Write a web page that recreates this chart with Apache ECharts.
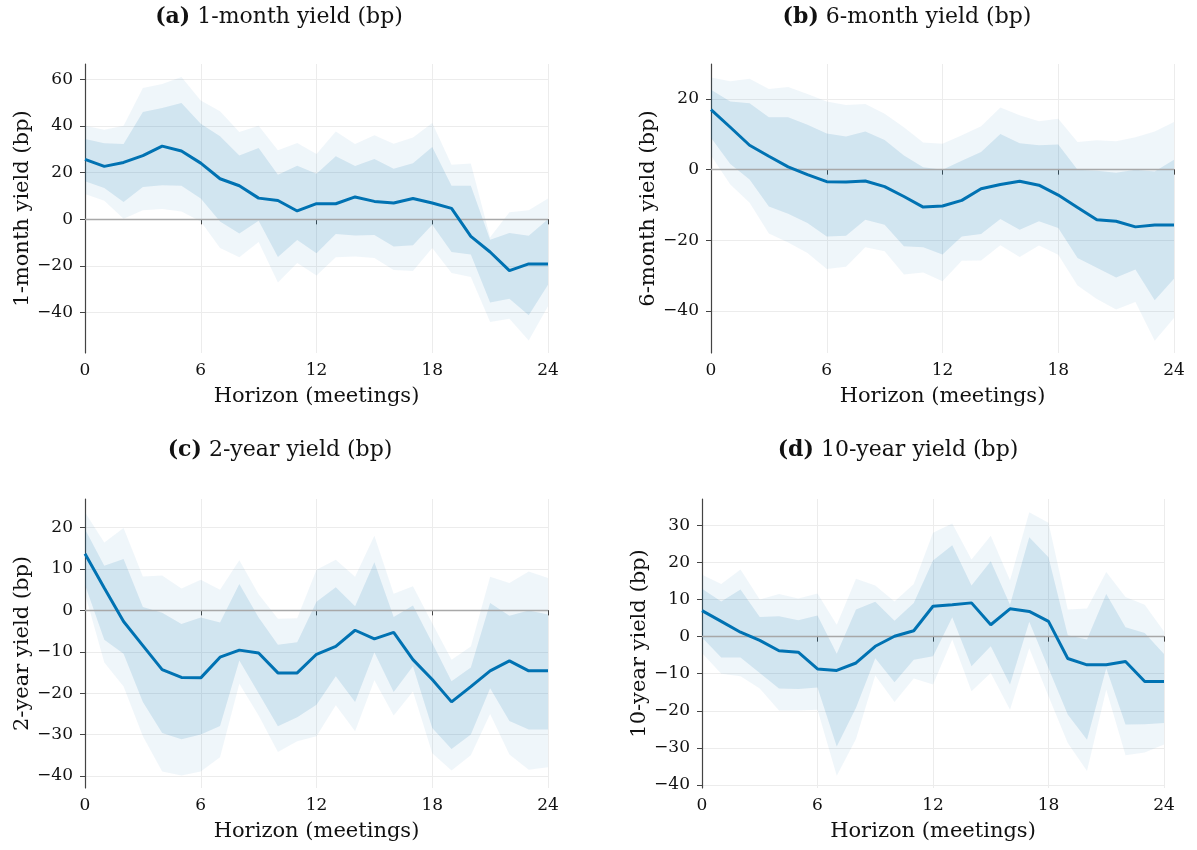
<!DOCTYPE html>
<html>
<head>
<meta charset="utf-8">
<script src="https://cdn.jsdelivr.net/npm/echarts@6/dist/echarts.min.js"></script>
<style>
html,body{margin:0;padding:0;background:#fff;}
#chart{width:1197px;height:850px;}
</style>
</head>
<body>
<div id="chart"></div>
<script>
// Horizon (meetings)
const horizons = ['0','1','2','3','4','5','6','7','8','9','10','11','12','13','14','15','16','17','18','19','20','21','22','23','24'];

// (a) 1-month yield
const a_mid  = [25.7, 22.7, 24.4, 27.3, 31.4, 29.3, 24.1, 17.4, 14.4, 9.1, 8.1, 3.6, 6.7, 6.7, 9.6, 7.7, 7.0, 8.9, 7.0, 4.7, -7.3, -14.0, -22.0, -19.1, -19.1];
const a_hi68 = [34.4, 32.6, 32.3, 46.0, 47.7, 49.9, 41.0, 35.6, 27.4, 30.6, 19.1, 23.0, 19.5, 27.0, 22.9, 25.9, 21.7, 24.0, 31.0, 14.4, 14.4, -8.7, -5.9, -7.0, 0.0];
const a_lo68 = [16.3, 13.4, 7.4, 13.9, 14.6, 14.4, 8.9, -0.9, -6.1, -0.6, -16.1, -8.9, -14.5, -6.3, -6.9, -6.7, -11.6, -11.1, -2.3, -14.0, -15.1, -35.6, -34.0, -41.1, -28.0];
const a_hi90 = [40.1, 38.4, 40.1, 56.3, 58.0, 61.0, 51.0, 46.3, 37.4, 40.1, 29.6, 32.7, 28.0, 37.7, 32.3, 36.1, 32.4, 35.1, 41.3, 23.4, 23.9, -7.7, 3.0, 3.9, 8.9];
const a_lo90 = [10.9, 8.0, 0.3, 3.9, 4.4, 3.4, -0.9, -12.3, -16.3, -9.7, -27.1, -18.7, -24.1, -16.3, -15.9, -16.6, -21.7, -22.1, -12.3, -23.0, -24.7, -44.0, -42.6, -51.9, -37.3];

// (b) 6-month yield
const b_mid  = [17.0, 12.0, 6.9, 3.8, 0.8, -1.4, -3.4, -3.5, -3.2, -4.8, -7.6, -10.6, -10.3, -8.7, -5.4, -4.2, -3.3, -4.4, -7.2, -10.7, -14.2, -14.6, -16.2, -15.7, -15.7];
const b_hi68 = [22.6, 19.3, 18.8, 14.8, 14.8, 12.7, 10.2, 9.4, 10.8, 8.4, 4.0, 0.7, 0.0, 2.5, 5.0, 10.1, 7.5, 6.9, 7.1, 0.0, -0.3, -0.9, 0.0, -0.5, 2.8];
const b_lo68 = [9.0, 1.6, -2.8, -10.4, -12.5, -15.1, -18.9, -18.7, -14.2, -15.6, -21.7, -22.0, -24.0, -18.9, -18.2, -14.0, -17.0, -14.6, -16.5, -25.0, -27.8, -30.5, -28.3, -37.0, -30.9];
const b_hi90 = [26.1, 25.0, 25.7, 22.8, 23.4, 21.4, 19.3, 18.3, 18.6, 15.8, 12.0, 7.7, 7.3, 9.7, 12.3, 17.6, 15.4, 13.7, 14.4, 7.8, 8.3, 8.0, 9.2, 10.8, 13.5];
const b_lo90 = [4.0, -4.2, -9.4, -18.1, -20.6, -23.6, -28.1, -27.5, -22.0, -23.1, -29.7, -29.1, -31.6, -25.8, -25.7, -21.4, -24.7, -21.5, -24.1, -32.8, -36.6, -39.6, -37.5, -48.4, -42.0];

// (c) 2-year yield
const c_mid  = [13.7, 5.4, -2.7, -8.5, -14.3, -16.2, -16.3, -11.3, -9.6, -10.3, -15.1, -15.1, -10.6, -8.7, -4.8, -6.9, -5.3, -11.9, -16.7, -22.1, -18.4, -14.6, -12.2, -14.6, -14.6];
const c_hi68 = [19.6, 10.8, 12.4, 0.8, -0.6, -3.3, -1.7, -2.9, 6.4, -1.7, -8.3, -7.7, 2.1, 5.6, 1.0, 11.6, -1.6, 1.2, -7.9, -17.1, -13.8, 1.8, -1.3, 0.0, -1.0];
const c_lo68 = [6.2, -7.1, -10.5, -22.1, -29.6, -31.1, -30.0, -27.9, -12.1, -20.0, -28.0, -25.8, -22.8, -15.9, -22.1, -10.1, -19.7, -13.5, -28.4, -33.5, -30.0, -18.8, -26.7, -28.8, -28.8];
const c_hi90 = [23.7, 16.4, 19.9, 8.2, 8.4, 5.3, 7.4, 5.0, 12.1, 3.9, -2.0, -1.9, 9.8, 12.2, 8.1, 18.0, 4.0, 5.8, -3.1, -11.9, -8.7, 8.1, 6.6, 9.4, 7.8];
const c_lo90 = [4.0, -12.6, -18.4, -30.4, -38.9, -39.9, -38.9, -35.5, -17.7, -25.4, -34.2, -31.6, -30.4, -22.9, -29.2, -16.9, -25.4, -19.6, -34.5, -38.7, -35.0, -25.0, -34.8, -38.5, -37.9];

// (d) 10-year yield
const d_mid  = [7.0, 4.1, 1.2, -1.0, -3.8, -4.2, -8.7, -9.1, -7.1, -2.6, 0.1, 1.6, 8.2, 8.6, 9.1, 3.2, 7.5, 6.8, 4.1, -5.9, -7.6, -7.6, -6.7, -12.1, -12.1];
const d_hi68 = [12.9, 9.5, 12.7, 5.3, 5.5, 4.4, 5.7, -4.6, 7.3, 9.4, 4.3, 9.1, 20.5, 24.6, 13.8, 20.3, 8.6, 26.8, 21.4, 0.4, -0.8, 11.5, 2.5, 1.0, -4.7];
const d_lo68 = [-0.2, -5.6, -5.6, -9.8, -14.0, -14.1, -13.7, -29.6, -19.2, -5.8, -12.3, -6.2, -5.3, 5.2, -8.0, -2.6, -12.9, 4.0, -8.5, -21.0, -27.8, -8.5, -23.7, -23.6, -23.3];
const d_hi90 = [16.7, 14.2, 18.1, 10.0, 11.5, 10.3, 11.6, 3.2, 15.6, 13.8, 9.5, 14.2, 28.0, 30.5, 20.8, 27.2, 15.2, 33.5, 30.7, 7.3, 7.6, 17.4, 10.7, 8.6, 1.4];
const d_lo90 = [-4.4, -10.0, -10.7, -14.0, -19.9, -19.9, -19.7, -37.5, -27.6, -10.5, -17.6, -11.3, -12.9, -0.8, -14.7, -9.8, -19.7, -3.1, -16.1, -28.7, -36.2, -14.3, -32.0, -31.2, -29.1];

// Tick labels
const a_yticks = [-40, -20, 0, 20, 40, 60];
const b_yticks = [-40, -20, 0, 20];
const c_yticks = [-40, -30, -20, -10, 0, 10, 20];
const d_yticks = [-40, -30, -20, -10, 0, 10, 20, 30];
const xticks = ['0', '6', '12', '18', '24'];

// Titles / labels
const titles = [['(a)', '1-month yield (bp)'], ['(b)', '6-month yield (bp)'], ['(c)', '2-year yield (bp)'], ['(d)', '10-year yield (bp)']];
const ylabels = ['1-month yield (bp)', '6-month yield (bp)', '2-year yield (bp)', '10-year yield (bp)'];
const xlabel = 'Horizon (meetings)';

const panels = [
  {mid: a_mid, hi68: a_hi68, lo68: a_lo68, hi90: a_hi90, lo90: a_lo90, ticks: a_yticks, min: -57.3, max: 66.6},
  {mid: b_mid, hi68: b_hi68, lo68: b_lo68, hi90: b_hi90, lo90: b_lo90, ticks: b_yticks, min: -51.9, max: 29.9},
  {mid: c_mid, hi68: c_hi68, lo68: c_lo68, hi90: c_hi90, lo90: c_lo90, ticks: c_yticks, min: -42.9, max: 26.9},
  {mid: d_mid, hi68: d_hi68, lo68: d_lo68, hi90: d_hi90, lo90: d_lo90, ticks: d_yticks, min: -40.8, max: 37.1}
];

const gridPos = [
  {left: 85, top: 64, width: 463, height: 289},
  {left: 711, top: 64, width: 463, height: 289},
  {left: 85, top: 499, width: 463, height: 289},
  {left: 702, top: 499, width: 462, height: 289}
];
const titlePos = [{x: 274, y: 1}, {x: 902, y: 1}, {x: 275, y: 434}, {x: 893, y: 434}];

const FONT = 'DejaVu Serif';
const LINE = '#0072B2';
const minusFmt = v => (v < 0 ? '\u2212' + Math.abs(v) : String(v));
const xtickFmt = v => (xticks.indexOf(v) >= 0 ? v : '');

const option = {
  backgroundColor: '#fff',
  animation: false,
  title: titles.map((t, i) => ({
    text: '{b|' + t[0] + '} ' + t[1],
    left: titlePos[i].x,
    top: titlePos[i].y,
    textAlign: 'center',
    textStyle: {
      fontFamily: FONT, fontSize: 22, fontWeight: 'normal', color: '#111',
      rich: {b: {fontFamily: FONT, fontSize: 22, fontWeight: 'bold', color: '#111'}}
    }
  })),
  grid: gridPos.map(g => Object.assign({containLabel: false}, g)),
  xAxis: panels.map((p, i) => ({
    type: 'category',
    gridIndex: i,
    data: horizons,
    boundaryGap: false,
    name: xlabel,
    nameLocation: 'middle',
    nameGap: 33,
    nameTextStyle: {fontFamily: FONT, fontSize: 21, color: '#111'},
    axisLine: {show: true, lineStyle: {color: '#444', width: 1.2}},
    axisTick: {show: true, interval: 5, length: 5, lineStyle: {color: '#444', width: 1}},
    axisLabel: {interval: 5, margin: 9, fontFamily: FONT, fontSize: 17, color: '#111', formatter: xtickFmt},
    splitLine: {show: true, interval: 5, lineStyle: {color: '#ececec', width: 1}}
  })),
  yAxis: panels.map((p, i) => ({
    type: 'value',
    gridIndex: i,
    min: p.min,
    max: p.max,
    name: ylabels[i],
    nameLocation: 'middle',
    nameGap: 51,
    nameRotate: 90,
    nameTextStyle: {fontFamily: FONT, fontSize: 21, color: '#111'},
    axisLine: {show: true, lineStyle: {color: '#444', width: 1.2}},
    axisTick: {show: true, length: 5, customValues: p.ticks, lineStyle: {color: '#444', width: 1}},
    axisLabel: {customValues: p.ticks, margin: 12, fontFamily: FONT, fontSize: 17, color: '#111', formatter: minusFmt},
    splitLine: {show: true, lineStyle: {color: '#ececec', width: 1}}
  })),
  series: []
};

panels.forEach((p, i) => {
  const base = {type: 'line', xAxisIndex: i, yAxisIndex: i, symbol: 'none', silent: true,
                stackStrategy: 'all', lineStyle: {width: 0, opacity: 0}};
  const outerBand = p.hi90.map((v, k) => v - p.lo90[k]);
  const innerBand = p.hi68.map((v, k) => v - p.lo68[k]);
  option.series.push(Object.assign({}, base, {name: 'lo90_' + i, stack: 'o' + i, data: p.lo90, z: 1}));
  option.series.push(Object.assign({}, base, {name: 'band90_' + i, stack: 'o' + i, data: outerBand, z: 1,
    areaStyle: {color: 'rgba(0,114,178,0.09)'}}));
  option.series.push(Object.assign({}, base, {name: 'lo68_' + i, stack: 'n' + i, data: p.lo68, z: 2}));
  option.series.push(Object.assign({}, base, {name: 'band68_' + i, stack: 'n' + i, data: innerBand, z: 2,
    areaStyle: {color: 'rgba(0,114,178,0.18)'}}));
  option.series.push({
    type: 'line', name: 'mid_' + i, xAxisIndex: i, yAxisIndex: i, symbol: 'none', silent: true, z: 4,
    data: p.mid,
    lineStyle: {color: LINE, width: 3},
    markLine: {
      silent: true, symbol: 'none', label: {show: false}, z: 3,
      lineStyle: {color: '#a8a8a8', width: 1.3, type: 'solid'},
      data: [{yAxis: 0}]
    }
  });
});

const chart = echarts.init(document.getElementById('chart'), null, {renderer: 'canvas'});
chart.setOption(option);
</script>
</body>
</html>
